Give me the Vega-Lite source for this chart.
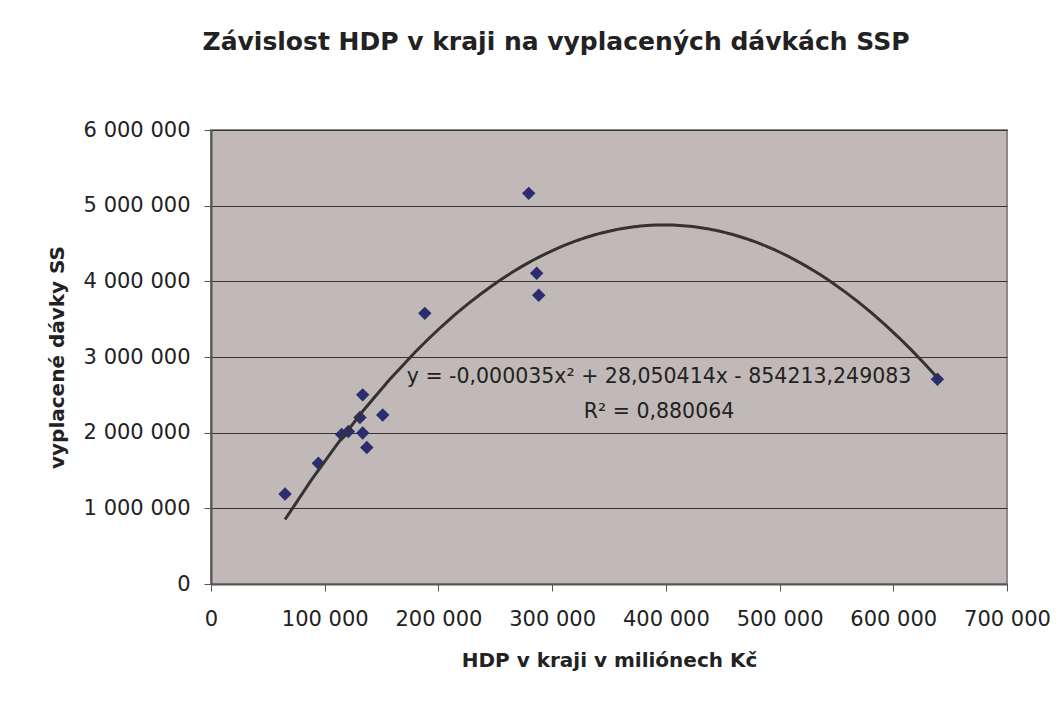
{
  "$schema": "https://vega.github.io/schema/vega-lite/v6.json",
  "width": 796,
  "height": 454,
  "autosize": {"type": "none"},
  "padding": {"left": 211, "top": 130, "right": 53, "bottom": 120},
  "background": "white",
  "config": {
    "locale": {"number": {"decimal": ",", "thousands": " ", "grouping": [3], "currency": ["", " Kč"]}},
    "view": {"fill": "#C1B9B7", "stroke": "#8A8A8A", "strokeWidth": 2},
    "font": "DejaVu Sans"
  },
  "title": {
    "text": "Závislost HDP v kraji na vyplacených dávkách SSP",
    "fontSize": 25,
    "fontWeight": "bold",
    "color": "#222222",
    "offset": 64,
    "dx": -53,
    "font": "DejaVu Sans"
  },
  "data": {
    "values": [
      {"hdp": 65100, "davky": 1190000},
      {"hdp": 94400, "davky": 1595000},
      {"hdp": 114900, "davky": 1975000},
      {"hdp": 120800, "davky": 2015000},
      {"hdp": 131000, "davky": 2200000},
      {"hdp": 133400, "davky": 2500000},
      {"hdp": 151000, "davky": 2233000},
      {"hdp": 133400, "davky": 1995000},
      {"hdp": 137000, "davky": 1805000},
      {"hdp": 188000, "davky": 3577000},
      {"hdp": 279400, "davky": 5163000},
      {"hdp": 286400, "davky": 4106000},
      {"hdp": 288200, "davky": 3815000},
      {"hdp": 638800, "davky": 2705000}
    ]
  },
  "layer": [
    {
      "mark": {"type": "point", "shape": "diamond", "filled": true, "size": 180, "color": "#2B2D6E", "opacity": 1},
      "encoding": {
        "x": {
          "field": "hdp", "type": "quantitative",
          "scale": {"domain": [0, 700000], "nice": false, "zero": true},
          "axis": {
            "title": "HDP v kraji v miliónech Kč",
            "titleFontSize": 20, "titleFontWeight": "bold", "titleColor": "#222222",
            "labelFontSize": 21, "labelColor": "#222222",
            "values": [0, 100000, 200000, 300000, 400000, 500000, 600000, 700000],
            "format": ",d", "grid": false, "tickSize": 7, "tickColor": "#555555",
            "domainColor": "#555555", "domainWidth": 2, "labelPadding": 17,
            "titlePadding": 21, "labelFlush": false
          }
        },
        "y": {
          "field": "davky", "type": "quantitative",
          "scale": {"domain": [0, 6000000], "nice": false},
          "axis": {
            "title": "vyplacené dávky SS",
            "titleFontSize": 20, "titleFontWeight": "bold", "titleColor": "#222222",
            "labelFontSize": 21, "labelColor": "#222222",
            "values": [0, 1000000, 2000000, 3000000, 4000000, 5000000, 6000000],
            "format": ",d", "grid": true, "gridColor": "#333333", "gridWidth": 1,
            "tickSize": 7, "tickColor": "#555555",
            "domainColor": "#555555", "domainWidth": 2, "labelPadding": 14,
            "titlePadding": 16
          }
        }
      }
    },
    {
      "transform": [{"regression": "davky", "on": "hdp", "method": "poly", "order": 2}],
      "mark": {"type": "line", "color": "#333333", "strokeWidth": 3},
      "encoding": {
        "x": {"field": "hdp", "type": "quantitative"},
        "y": {"field": "davky", "type": "quantitative"}
      }
    },
    {
      "data": {"values": [{}]},
      "mark": {
        "type": "text",
        "text": ["y = -0,000035x² + 28,050414x - 854213,249083", "R² = 0,880064"],
        "fontSize": 20.5, "lineHeight": 35, "align": "center", "baseline": "middle",
        "color": "#222222", "font": "DejaVu Sans"
      },
      "encoding": {
        "x": {"datum": 394000, "type": "quantitative"},
        "y": {"datum": 2736000, "type": "quantitative"}
      }
    }
  ]
}
